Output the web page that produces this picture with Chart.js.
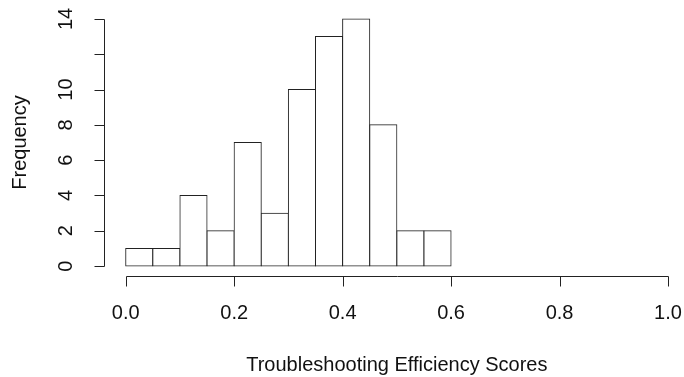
<!DOCTYPE html>
<html>
<head>
<meta charset="utf-8">
<script src="https://cdn.jsdelivr.net/npm/chart.js@4.4.1/dist/chart.umd.min.js"></script>
<style>
  html, body { margin: 0; padding: 0; background: #fff; }
  #wrap { width: 684px; height: 377px; position: relative; }
</style>
</head>
<body>
<div id="wrap"><canvas id="histChart"></canvas></div>
<script>
// histogram bins (left edges) and counts
const binStarts = [0.00, 0.05, 0.10, 0.15, 0.20, 0.25, 0.30, 0.35, 0.40, 0.45, 0.50, 0.55];
const binWidth = 0.05;
const counts = [1, 1, 4, 2, 7, 3, 10, 13, 14, 8, 2, 2];

// axis ticks
const xTicks = [0.0, 0.2, 0.4, 0.6, 0.8, 1.0];
const xTickLabels = ['0.0', '0.2', '0.4', '0.6', '0.8', '1.0'];
const yTicks = [0, 2, 4, 6, 8, 10, 12, 14];
const yTickLabels = ['0', '2', '4', '6', '8', '10', '', '14'];

const xTitle = 'Troubleshooting Efficiency Scores';
const yTitle = 'Frequency';

const ink = '#222';
const font = '20px "Liberation Sans", Arial, sans-serif';

// R-style detached axes, drawn with the chart's own scales
const baseAxes = {
    id: 'baseAxes',
    afterDraw(chart) {
        const ctx = chart.ctx;
        const xs = chart.scales.x;
        const ys = chart.scales.y;
        const area = chart.chartArea;
        const tickLen = 10;
        ctx.save();
        ctx.strokeStyle = ink;
        ctx.lineWidth = 1;
        ctx.fillStyle = '#111';
        ctx.font = font;

        // x axis
        const xAxisY = Math.round(area.bottom) + 0.5;
        ctx.beginPath();
        ctx.moveTo(Math.round(xs.getPixelForValue(xTicks[0])) + 0.5, xAxisY);
        ctx.lineTo(Math.round(xs.getPixelForValue(xTicks[xTicks.length - 1])) + 0.5, xAxisY);
        xTicks.forEach(v => {
            const px = Math.round(xs.getPixelForValue(v)) + 0.5;
            ctx.moveTo(px, xAxisY);
            ctx.lineTo(px, xAxisY + tickLen);
        });
        ctx.stroke();
        ctx.textAlign = 'center';
        ctx.textBaseline = 'middle';
        xTicks.forEach((v, i) => {
            ctx.fillText(xTickLabels[i], xs.getPixelForValue(v), 313);
        });
        ctx.fillText(xTitle, (xs.getPixelForValue(0) + xs.getPixelForValue(1)) / 2, 365);

        // y axis
        const yAxisX = Math.round(area.left) + 0.5;
        ctx.beginPath();
        ctx.moveTo(yAxisX, Math.round(ys.getPixelForValue(yTicks[0])) + 0.5);
        ctx.lineTo(yAxisX, Math.round(ys.getPixelForValue(yTicks[yTicks.length - 1])) + 0.5);
        yTicks.forEach(v => {
            const py = Math.round(ys.getPixelForValue(v)) + 0.5;
            ctx.moveTo(yAxisX, py);
            ctx.lineTo(yAxisX - tickLen, py);
        });
        ctx.stroke();
        yTicks.forEach((v, i) => {
            if (!yTickLabels[i]) return;
            ctx.save();
            ctx.translate(66, ys.getPixelForValue(v));
            ctx.rotate(-Math.PI / 2);
            ctx.fillText(yTickLabels[i], 0, 0);
            ctx.restore();
        });
        ctx.save();
        ctx.translate(20, (ys.getPixelForValue(0) + ys.getPixelForValue(14)) / 2);
        ctx.rotate(-Math.PI / 2);
        ctx.fillText(yTitle, 0, 0);
        ctx.restore();

        ctx.restore();
    }
};

new Chart(document.getElementById('histChart'), {
    type: 'bar',
    data: {
        datasets: [{
            label: yTitle,
            data: binStarts.map((b, i) => ({ x: b + binWidth / 2, y: counts[i] })),
            backgroundColor: '#fff',
            borderColor: ink,
            borderWidth: 1,
            borderSkipped: false,
            inflateAmount: 0.5,
            barPercentage: 1,
            categoryPercentage: 1
        }]
    },
    options: {
        responsive: true,
        maintainAspectRatio: false,
        animation: false,
        layout: { padding: { left: 104, right: 0, top: 9, bottom: 101 } },
        scales: {
            x: { type: 'linear', display: false, offset: false, min: -0.04, max: 1.0295 },
            y: { display: false, min: -0.56, max: 14.56 }
        },
        plugins: {
            legend: { display: false },
            tooltip: { enabled: false }
        }
    },
    plugins: [baseAxes]
});
</script>
</body>
</html>
